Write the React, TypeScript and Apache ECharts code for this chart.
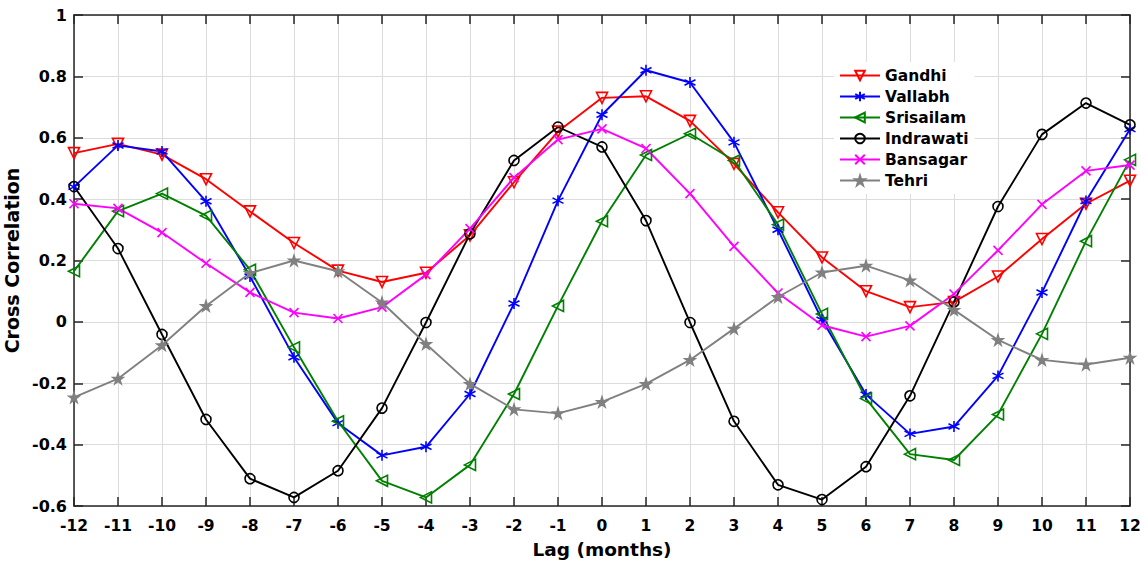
import React, { useEffect, useRef } from "react";
import * as echarts from "echarts";

const lags = [-12, -11, -10, -9, -8, -7, -6, -5, -4, -3, -2, -1, 0, 1, 2, 3, 4, 5, 6, 7, 8, 9, 10, 11, 12];
const gandhi = [0.55, 0.58, 0.545, 0.465, 0.36, 0.257, 0.167, 0.13, 0.16, 0.282, 0.455, 0.62, 0.73, 0.735, 0.655, 0.515, 0.357, 0.21, 0.1, 0.048, 0.065, 0.148, 0.27, 0.385, 0.46];
const vallabh = [0.44, 0.575, 0.555, 0.393, 0.148, -0.115, -0.33, -0.435, -0.407, -0.235, 0.06, 0.395, 0.675, 0.82, 0.78, 0.585, 0.3, 0.007, -0.237, -0.365, -0.341, -0.176, 0.096, 0.394, 0.628];
const srisailam = [0.165, 0.361, 0.418, 0.346, 0.17, -0.083, -0.324, -0.518, -0.572, -0.466, -0.235, 0.052, 0.328, 0.544, 0.613, 0.526, 0.317, 0.026, -0.25, -0.431, -0.45, -0.302, -0.039, 0.263, 0.528];
const indrawati = [0.441, 0.239, -0.041, -0.318, -0.511, -0.572, -0.485, -0.281, -0.002, 0.287, 0.526, 0.635, 0.57, 0.33, -0.002, -0.324, -0.531, -0.579, -0.472, -0.241, 0.065, 0.376, 0.611, 0.713, 0.642];
const bansagar = [0.385, 0.37, 0.291, 0.191, 0.096, 0.03, 0.011, 0.048, 0.154, 0.304, 0.47, 0.594, 0.629, 0.565, 0.418, 0.246, 0.094, -0.011, -0.048, -0.013, 0.091, 0.233, 0.383, 0.492, 0.511];
const tehri = [-0.246, -0.185, -0.076, 0.052, 0.159, 0.2, 0.165, 0.063, -0.072, -0.202, -0.285, -0.298, -0.261, -0.202, -0.124, -0.022, 0.081, 0.161, 0.183, 0.135, 0.039, -0.059, -0.124, -0.139, -0.117];

const seriesNames = ["Gandhi", "Vallabh", "Srisailam", "Indrawati", "Bansagar", "Tehri"];
const seriesColors = ["#ff0000", "#0000ff", "#008000", "#000000", "#ff00ff", "#808080"];

const FONT = "'DejaVu Sans', 'Liberation Sans', Arial, sans-serif";

const asterisk = "path://M0,-5L0,5M-4.33,-2.5L4.33,2.5M-4.33,2.5L4.33,-2.5";
const cross = "path://M-1,-1L1,1M-1,1L1,-1";
const star =
  "path://M0,-1L0.225,-0.309L0.951,-0.309L0.364,0.118L0.588,0.809L0,0.382L-0.588,0.809L-0.364,0.118L-0.951,-0.309L-0.225,-0.309Z";

export default function App() {
  const ref = useRef<HTMLDivElement>(null);
  useEffect(() => {
    if (!ref.current) return;
    const chart = echarts.init(ref.current, undefined, { renderer: "svg" });
    const allData = [gandhi, vallabh, srisailam, indrawati, bansagar, tehri];
    const markerDefs: any[] = [
      { symbol: "triangle", symbolRotate: 180, symbolSize: 11, fill: "rgba(255,255,255,0)" },
      { symbol: asterisk, symbolRotate: 0, symbolSize: 11, fill: "rgba(255,255,255,0)" },
      { symbol: "triangle", symbolRotate: 90, symbolSize: 11, fill: "rgba(255,255,255,0)" },
      { symbol: "circle", symbolRotate: 0, symbolSize: 10, fill: "rgba(255,255,255,0)" },
      { symbol: cross, symbolRotate: 0, symbolSize: 9, fill: "rgba(255,255,255,0)" },
      { symbol: star, symbolRotate: 0, symbolSize: 10, fill: "#808080" },
    ];
    const series = allData.map((arr, i) => ({
      name: seriesNames[i],
      type: "line",
      data: lags.map((l, j) => [l, arr[j]]),
      symbol: markerDefs[i].symbol,
      symbolRotate: markerDefs[i].symbolRotate,
      symbolSize: markerDefs[i].symbolSize,
      showAllSymbol: true,
      color: seriesColors[i],
      lineStyle: { color: seriesColors[i], width: 1.9 },
      itemStyle: { color: markerDefs[i].fill, borderColor: seriesColors[i], borderWidth: 1.6 },
      emphasis: { disabled: true },
      clip: false,
      z: 3,
    }));
    const axisLine = { show: true, onZero: false, lineStyle: { color: "#262626", width: 1.5 } };
    const axisTick = { show: true, inside: true, length: 9, lineStyle: { color: "#262626", width: 1.5 } };
    const option: any = {
      animation: false,
      backgroundColor: "#ffffff",
      grid: { left: 74, right: 18, top: 15, bottom: 57, show: false, containLabel: false, outerBoundsMode: "none" },
      legend: {
        orient: "vertical",
        left: 834,
        top: 62,
        padding: [5, 6, 5, 5],
        backgroundColor: "#ffffff",
        itemWidth: 40,
        itemHeight: 12,
        itemGap: 4,
        data: seriesNames,
        textStyle: { fontFamily: FONT, fontWeight: "bold", fontSize: 15.5, color: "#000", lineHeight: 17 },
      },
      xAxis: [
        {
          type: "value",
          min: -12,
          max: 12,
          interval: 1,
          name: "Lag (months)",
          nameLocation: "middle",
          nameGap: 34,
          nameTextStyle: { fontFamily: FONT, fontWeight: "bold", fontSize: 18.5, color: "#000" },
          axisLine,
          axisTick,
          axisLabel: { fontFamily: FONT, fontWeight: "bold", fontSize: 15.5, color: "#000", margin: 12 },
          splitLine: { show: true, lineStyle: { color: "#dcdcdc", width: 1 } },
        },
        {
          type: "value",
          position: "top",
          min: -12,
          max: 12,
          interval: 1,
          axisLine,
          axisTick,
          axisLabel: { show: false },
          splitLine: { show: false },
        },
      ],
      yAxis: [
        {
          type: "value",
          min: -0.6,
          max: 1,
          interval: 0.2,
          name: "Cross Correlation",
          nameLocation: "middle",
          nameGap: 45,
          nameTextStyle: { fontFamily: FONT, fontWeight: "bold", fontSize: 19, color: "#000" },
          axisLine,
          axisTick,
          axisLabel: {
            fontFamily: FONT,
            fontWeight: "bold",
            fontSize: 16,
            color: "#000",
            margin: 7,
            formatter: (v: number) => String(+v.toFixed(1)),
          },
          splitLine: { show: true, lineStyle: { color: "#dcdcdc", width: 1 } },
        },
        {
          type: "value",
          position: "right",
          min: -0.6,
          max: 1,
          interval: 0.2,
          axisLine,
          axisTick,
          axisLabel: { show: false },
          splitLine: { show: false },
        },
      ],
      series,
    };
    chart.setOption(option);
    return () => chart.dispose();
  }, []);
  return (
    <div
      ref={ref}
      style={{ position: "fixed", left: 0, top: 0, width: 1148, height: 563, background: "#fff" }}
    />
  );
}
